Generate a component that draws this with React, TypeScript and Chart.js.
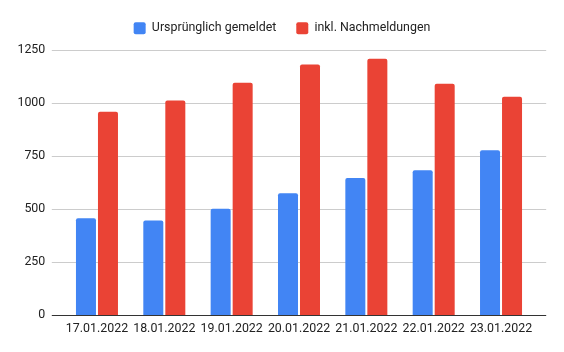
import React, { useEffect, useRef } from "react";
import { Chart, registerables } from "chart.js";

Chart.register(...registerables);

const categories = ["17.01.2022", "18.01.2022", "19.01.2022", "20.01.2022", "21.01.2022", "22.01.2022", "23.01.2022"];
const seriesNames = ["Ursprünglich gemeldet", "inkl. Nachmeldungen"];
const original = [457, 447, 502, 575, 647, 684, 779];
const withLate = [960, 1014, 1097, 1183, 1211, 1092, 1031];
const yMax = 1250;
const yStep = 250;

const EXT_L = 11.5;
const EXT_R = 11.5;
const LEGEND_EXTRA = 6;

const gridPlugin = {
  id: "extGrid",
  beforeUpdate(chart: any) {
    const lg = chart.legend;
    if (lg && !lg.__patched) {
      const orig = lg.fit;
      lg.fit = function () {
        orig.call(this);
        this.height += LEGEND_EXTRA;
      };
      lg.__patched = true;
    }
  },
  beforeDatasetsDraw(chart: any) {
    const { ctx, chartArea, scales } = chart;
    const y = scales.y;
    const left = chartArea.left - EXT_L;
    const right = chartArea.right + EXT_R;
    ctx.save();
    ctx.lineWidth = 1;
    ctx.strokeStyle = "#cccccc";
    y.ticks.forEach((t: any) => {
      if (t.value === 0) return;
      const py = Math.round(y.getPixelForValue(t.value)) + 0.5;
      ctx.beginPath();
      ctx.moveTo(left, py);
      ctx.lineTo(right, py);
      ctx.stroke();
    });
    ctx.restore();
  },
  afterDatasetsDraw(chart: any) {
    const { ctx, chartArea, scales } = chart;
    const y = scales.y;
    const left = chartArea.left - EXT_L;
    const right = chartArea.right + EXT_R;
    const py = Math.round(y.getPixelForValue(0)) + 0.5;
    ctx.save();
    ctx.lineWidth = 1;
    ctx.strokeStyle = "#333333";
    ctx.beginPath();
    ctx.moveTo(left, py);
    ctx.lineTo(right, py);
    ctx.stroke();
    ctx.restore();
  },
};

export default function App() {
  const ref = useRef<HTMLCanvasElement>(null);
  useEffect(() => {
    document.body.style.margin = "0";
    const chart = new Chart(ref.current!, {
      type: "bar",
      data: {
        labels: categories,
        datasets: [
          {
            label: seriesNames[0],
            data: original,
            backgroundColor: "#4285F4",
            borderRadius: { topLeft: 2, topRight: 2, bottomLeft: 0, bottomRight: 0 },
            borderSkipped: false,
            categoryPercentage: 0.6535,
            barPercentage: 0.909,
          },
          {
            label: seriesNames[1],
            data: withLate,
            backgroundColor: "#EA4335",
            borderRadius: { topLeft: 2, topRight: 2, bottomLeft: 0, bottomRight: 0 },
            borderSkipped: false,
            categoryPercentage: 0.6535,
            barPercentage: 0.909,
          },
        ],
      },
      options: {
        animation: false,
        responsive: false,
        maintainAspectRatio: false,
        layout: { padding: { left: 0, right: 0, top: 2, bottom: 10 } },
        plugins: {
          tooltip: { enabled: false },
          legend: {
            position: "top",
            labels: {
              boxWidth: 12,
              boxHeight: 12,
              useBorderRadius: true,
              borderRadius: 2,
              color: "#222222",
              padding: 20,
              font: { family: "Roboto", size: 12.4 },
            },
          },
        },
        scales: {
          x: {
            grid: { display: false, drawTicks: false },
            border: { display: false },
            ticks: { color: "#222222", padding: 6, font: { family: "Roboto", size: 12.4 }, maxRotation: 0, autoSkip: false },
          },
          y: {
            min: 0,
            max: yMax,
            grid: { display: false, drawTicks: false },
            border: { display: false },
            afterFit: (s: any) => {
              s.width = 63.3;
            },
            ticks: {
              stepSize: yStep,
              color: "#222222",
              padding: 18,
              font: { family: "Roboto", size: 12.4 },
              callback: (v: any) => String(v),
            },
          },
          y2: {
            position: "right",
            display: true,
            min: 0,
            max: 1,
            grid: { display: false, drawTicks: false },
            border: { display: false },
            ticks: { display: false },
            afterFit: (s: any) => {
              s.width = 29.3;
            },
          },
        },
      },
      plugins: [gridPlugin],
    });
    return () => chart.destroy();
  }, []);
  return (
    <div style={{ position: "absolute", left: 0, top: 0, width: 564, height: 352, background: "#fff" }}>
      <canvas ref={ref} width={564} height={352} />
    </div>
  );
}
